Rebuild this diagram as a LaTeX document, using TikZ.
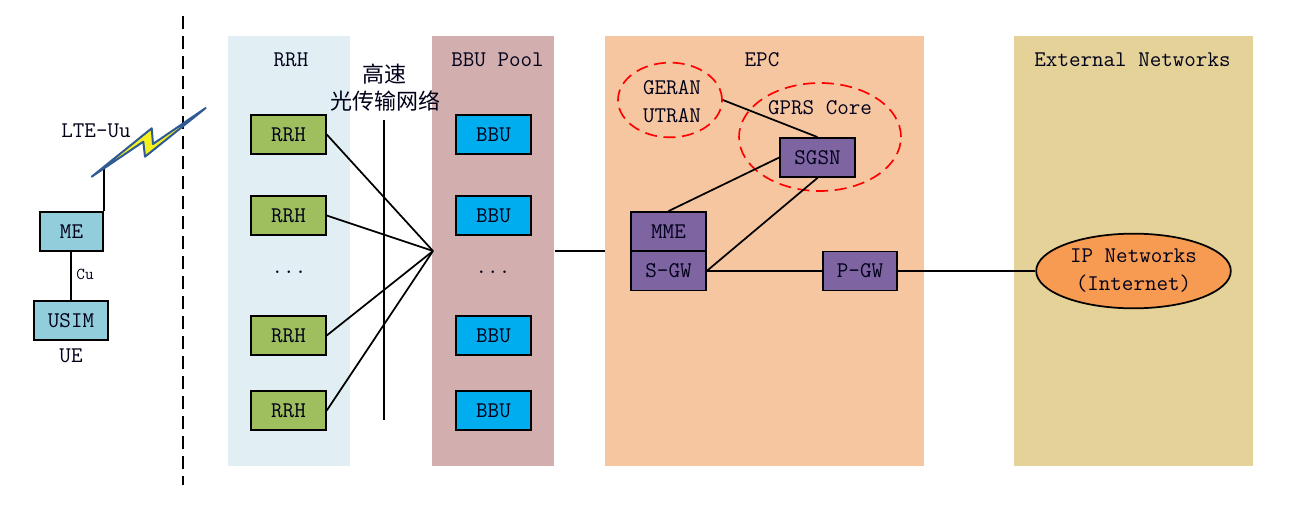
\documentclass[tikz,border=0pt]{standalone}
\usepackage{fontspec}
\newfontfamily\cjk{Noto Sans CJK SC}
\definecolor{rrhbg}{HTML}{E1EFF5}
\definecolor{bbubg}{HTML}{D2AFAE}
\definecolor{epcbg}{HTML}{F6C6A0}
\definecolor{extbg}{HTML}{E4D298}
\definecolor{rrhbox}{HTML}{9FBE5E}
\definecolor{bbubox}{HTML}{00AEEF}
\definecolor{uebox}{HTML}{92CDDC}
\definecolor{corebox}{HTML}{7F64A2}
\definecolor{ipfill}{HTML}{F79A52}
\definecolor{boltedge}{HTML}{2F5A94}
\definecolor{boltfill}{HTML}{F5F01E}
\usetikzlibrary{shapes.geometric}
\tikzset{
  x=0.75pt,y=-0.75pt,
  every node/.style={font=\ttfamily\fontsize{16.8}{21}\selectfont,text=black!90!blue},
  region/.style={draw=none,minimum height=322.5pt,inner sep=0pt,anchor=north west},
  box/.style={draw=black,line width=1.35pt,minimum width=56pt,minimum height=29.25pt,inner sep=0pt},
  rrhb/.style={box,fill=rrhbox},
  bbub/.style={box,fill=bbubox},
  ueb/.style={box,fill=uebox},
  coreb/.style={box,fill=corebox},
  dashell/.style={draw=red,line width=1.25pt,dash pattern=on 9pt off 5pt,ellipse,inner sep=0pt},
  link/.style={draw=black,line width=1.3pt},
}
\begin{document}
\begin{tikzpicture}
\useasboundingbox (0,0) rectangle (1294,505);
% regions
\node[region,fill=rrhbg,minimum width=91.5pt] (rrhbgn) at (228,36) {};
\node[region,fill=bbubg,minimum width=91.5pt] (bbubgn) at (432,36) {};
\node[region,fill=epcbg,minimum width=239.25pt] (epcbgn) at (605,36) {};
\node[region,fill=extbg,minimum width=179.25pt] (extbgn) at (1014,36) {};
% titles
\node (trrh) at (291,60) {RRH};
\node (tbbu) at (497.5,60) {BBU Pool};
\node (tepc) at (762,60) {EPC};
\node (text) at (1132.5,60) {External Networks};
\node[font=\cjk\fontsize{16.5}{20}\selectfont] (tfib) at (384,74) {高速};
\node[font=\cjk\fontsize{16.5}{20}\selectfont] (tfib2) at (385,101) {光传输网络};
% dashed boundary
\coordinate (dtop) at (183,16);
\coordinate (dbot) at (183,485);
\draw[black,line width=1.6pt,dash pattern=on 10pt off 5pt] (dtop) -- (dbot);
% fibre line
\coordinate (ftop) at (384,120);
\coordinate (fbot) at (384,420);
\draw[link] (ftop) -- (fbot);
% RRH and BBU
\node[rrhb] (r1) at (288.5,134.5) {RRH};
\node[rrhb] (r2) at (288.5,215.5) {RRH};
\node[rrhb] (r3) at (288.5,335.5) {RRH};
\node[rrhb] (r4) at (288.5,410.5) {RRH};
\node (rdots) at (289,272) {...};
\node[bbub] (b1) at (493.5,134.5) {BBU};
\node[bbub] (b2) at (493.5,215.5) {BBU};
\node[bbub] (b3) at (493.5,335.5) {BBU};
\node[bbub] (b4) at (493.5,410.5) {BBU};
\node (bdots) at (493,272) {...};
\coordinate (hub) at (433,251);
\foreach \n in {r1,r2,r3,r4} \draw[link] (\n.east) -- (hub);
% UE
\node[ueb,minimum width=47pt] (me) at (71.5,231.5) {ME};
\node[ueb] (usim) at (71,320.5) {USIM};
\node (ue) at (71,356) {UE};
\node[font=\ttfamily\fontsize{12.5}{15}\selectfont] (cu) at (85,274) {Cu};
\node (lte) at (96,131) {LTE-Uu};
\draw[link] (me.south -| usim.north) -- (usim.north);
% lightning
\coordinate (boltt) at (91.7,176.7);
\coordinate (mast) at (103,168);
\draw[link] (me.north east) -- (me.north east |- mast);
\draw[draw=boltedge,fill=boltfill,line width=1.5pt,line join=round]
  (boltt) -- (151.7,128.3) -- (153,144) -- (205.7,108) -- (145,156.7) -- (143.3,141.7) -- cycle;
% EPC
\node[coreb] (mme) at (668.5,231.5) {MME};
\node[coreb] (sgw) at (668.5,271) {S-GW};
\node[coreb] (pgw) at (860,271) {P-GW};
\node[coreb] (sgsn) at (817.5,157.5) {SGSN};
\node[dashell,minimum width=78pt,minimum height=56pt] (geran) at (670,100) {};
\node (gt1) at (672,88) {GERAN};
\node (gt2) at (672,116) {UTRAN};
\node[dashell,minimum width=121.5pt,minimum height=81pt] (gprs) at (820,137) {};
\node (gpt) at (820,108) {GPRS Core};
\draw[link] (geran.east) -- (sgsn.north);
\draw[link] (sgsn.west) -- (mme.north);
\draw[link] (sgsn.south) -- (sgw.east);
\draw[link] (sgw.east) -- (pgw.west);
\draw[link] (bbubgn.east) -- (epcbgn.west |- bbubgn.east);
% External
\node[draw=black,line width=1.3pt,fill=ipfill,ellipse,minimum width=146pt,minimum height=56pt,inner sep=0pt,align=center] (ip) at (1133.5,271) {IP Networks\\(Internet)};
\draw[link] (pgw.east) -- (ip.west);
\end{tikzpicture}
\end{document}
